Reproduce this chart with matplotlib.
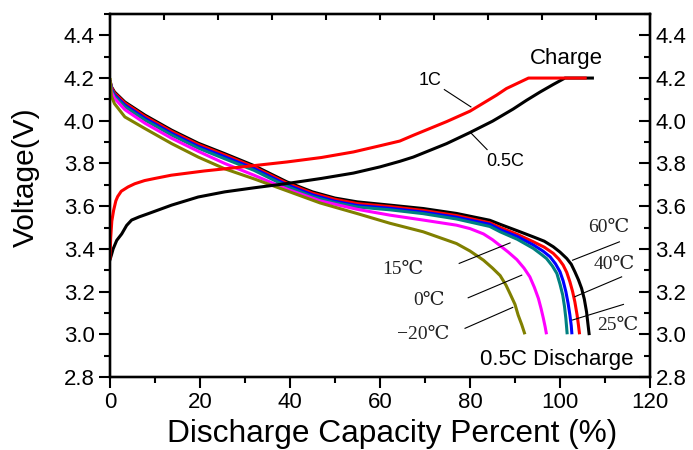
import matplotlib
matplotlib.use("Agg")
import matplotlib.pyplot as plt
import numpy as np

# ---------------- data ----------------
# discharge curves at 0.5C, various temperatures
d60_x = [0, 0.3, 1, 3.3, 7.8, 13.7, 19.6, 25.5, 32, 39.3, 45, 50, 55, 62.2, 69.6, 77, 84.4, 86.7, 90.5, 94.1, 96.5, 98.5,
         100, 101.5, 102.5, 103.3, 104.1, 104.8, 105.4, 105.9, 106.2, 106.5]
d60_v = [4.19, 4.16, 4.135, 4.088, 4.026, 3.956, 3.895, 3.846, 3.79, 3.714, 3.667, 3.638, 3.62, 3.605, 3.589, 3.566, 3.534,
         3.515, 3.485, 3.456, 3.436, 3.41, 3.385, 3.355, 3.328, 3.293, 3.255, 3.215, 3.165, 3.105, 3.05, 2.996]

d40_x = [0, 0.3, 1, 3.3, 7.8, 13.7, 19.6, 25.5, 32, 39.3, 45, 50, 55, 62.2, 69.6, 77, 84.4, 86.7, 90.5, 94.1, 96.5, 98.5,
         99.7, 100.7, 101.5, 102.2, 102.8, 103.3, 103.8, 104.1, 104.35]
d40_v = [4.19, 4.157, 4.13, 4.083, 4.02, 3.95, 3.889, 3.84, 3.784, 3.708, 3.661, 3.632, 3.612, 3.598, 3.58, 3.556, 3.522,
         3.500, 3.468, 3.433, 3.408, 3.379, 3.353, 3.324, 3.29, 3.246, 3.2, 3.152, 3.09, 3.043, 3.0]

d25_x = [0, 0.3, 1, 3.3, 7.8, 13.7, 19.6, 25.5, 32, 39.3, 45, 50, 55, 62.2, 69.6, 77, 84.4, 86.7, 90.5, 94.1, 96.2, 97.8,
         99.0, 100, 100.7, 101.3, 101.8, 102.2, 102.5, 102.65]
d25_v = [4.19, 4.15, 4.122, 4.074, 4.011, 3.941, 3.88, 3.831, 3.776, 3.70, 3.653, 3.623, 3.603, 3.59, 3.572, 3.548, 3.515,
         3.49, 3.458, 3.418, 3.39, 3.363, 3.33, 3.293, 3.25, 3.2, 3.145, 3.09, 3.04, 3.0]

d15_x = [0, 0.3, 1, 3.3, 7.8, 13.7, 19.6, 25.5, 32, 39.3, 45, 50, 55, 62.2, 69.6, 77, 84.4, 86.7, 90.5, 94.1, 95.8, 97,
         98.3, 99.3, 100, 100.6, 101.0, 101.3, 101.6]
d15_v = [4.19, 4.145, 4.115, 4.066, 4.003, 3.933, 3.872, 3.822, 3.768, 3.692, 3.645, 3.616, 3.596, 3.583, 3.565, 3.54, 3.505,
         3.48, 3.445, 3.402, 3.375, 3.355, 3.32, 3.285, 3.235, 3.184, 3.13, 3.075, 3.0]

d0_x = [0, 0.3, 1, 3.3, 7.8, 13.7, 19.6, 25.5, 32, 39.3, 46.7, 55, 62.2, 69.6, 77, 80, 83, 85, 86.7, 88.5, 90.4, 92, 93.3,
        94.3, 95.2, 95.8, 96.3, 96.7, 97.0]
d0_v = [4.19, 4.135, 4.105, 4.052, 3.988, 3.918, 3.857, 3.80, 3.745, 3.68, 3.625, 3.585, 3.558, 3.535, 3.511, 3.495, 3.47,
        3.443, 3.415, 3.385, 3.35, 3.31, 3.269, 3.22, 3.168, 3.12, 3.075, 3.035, 3.0]

dm20_x = [0, 0.3, 1, 3.3, 7.8, 13.7, 19.6, 25.5, 32, 39.3, 46.7, 55, 62.2, 69.6, 77, 80, 83, 85, 86.7, 88, 88.9, 90, 90.7,
          91.5, 92.2]
dm20_v = [4.20, 4.115, 4.08, 4.018, 3.963, 3.893, 3.83, 3.775, 3.728, 3.672, 3.615, 3.565, 3.52, 3.48, 3.425, 3.39, 3.347,
          3.31, 3.275, 3.23, 3.19, 3.14, 3.09, 3.045, 3.0]

# charge curves
c1_x = [0, 0.15, 0.4, 0.8, 1.3, 1.7, 2.5, 4, 5.5, 7.7, 10, 13.6, 21, 25.5, 32, 39.3, 47, 54.1, 60, 64.4, 67.4, 74.8, 80,
        85.9, 88.1, 93, 105.6]
c1_v = [3.357, 3.45, 3.53, 3.58, 3.625, 3.645, 3.67, 3.69, 3.705, 3.72, 3.73, 3.745, 3.765, 3.775, 3.79, 3.807, 3.828, 3.854,
        3.883, 3.905, 3.932, 3.996, 4.045, 4.12, 4.151, 4.20, 4.20]

c05_x = [0, 0.3, 0.7, 1.5, 2.6, 3.7, 4.8, 6.5, 8.5, 13.7, 19.6, 25.5, 32, 39.3, 47, 54.1, 60, 64.4, 67.4, 74.8, 80, 85,
         89.6, 92.5, 95.6, 98.5, 101.1, 107.2]
c05_v = [3.35, 3.37, 3.40, 3.44, 3.47, 3.51, 3.535, 3.55, 3.565, 3.605, 3.643, 3.667, 3.686, 3.706, 3.73, 3.755, 3.784, 3.81,
         3.83, 3.893, 3.945, 3.998, 4.055, 4.095, 4.135, 4.17, 4.20, 4.20]

discharge = [
    (d60_x, d60_v, "#000000"),
    (d40_x, d40_v, "#ff0000"),
    (d25_x, d25_v, "#0000ff"),
    (d15_x, d15_v, "#008080"),
    (d0_x, d0_v, "#ff00ff"),
    (dm20_x, dm20_v, "#808000"),
]

# annotation labels: (text, x, y) and leader lines ((x0, x1), (y0, y1))
charge_labels = [("1C", 71.2, 4.19), ("0.5C", 87.9, 3.81)]
charge_leaders = [((74.3, 80.2), (4.146, 4.065)), ((80.2, 83.8), (3.943, 3.865))]
temp_labels = [("60℃", 110.8, 3.498), ("40℃", 112.1, 3.329), ("25℃", 112.8, 3.039),
               ("15℃", 65.1, 3.303), ("0℃", 70.8, 3.156), ("−20℃", 69.6, 2.998)]
temp_leaders = [((102.8, 113.2), (3.347, 3.433)), ((103.3, 113.7), (3.176, 3.269)),
                ((102.8, 114.1), (3.067, 3.14)), ((77.6, 88.9), (3.332, 3.428)),
                ((79.6, 91.5), (3.171, 3.277)), ((78.9, 89.5), (3.028, 3.126))]

xticks = [0, 20, 40, 60, 80, 100, 120]
yticks = [2.8, 3.0, 3.2, 3.4, 3.6, 3.8, 4.0, 4.2, 4.4]

# ---------------- figure ----------------
plt.rcParams['font.family'] = ['Liberation Sans', 'DejaVu Sans']
fig = plt.figure(figsize=(6.93, 4.5), dpi=100)
ax = fig.add_axes([110 / 693, 1 - 377 / 450, 540 / 693, 363 / 450])

lw = 2.2
for x, v, c in discharge:
    ax.plot(x, v, color=c, lw=lw, solid_joinstyle='round', solid_capstyle='butt', zorder=3)
ax.plot(c05_x, c05_v, color="#000000", lw=lw, solid_joinstyle='round', zorder=4)
ax.plot(c1_x, c1_v, color="#ff0000", lw=lw, solid_joinstyle='round', zorder=5)

for (xs, ys) in charge_leaders + temp_leaders:
    ax.plot(xs, ys, color="black", lw=0.8, zorder=6)
for t, x, y in charge_labels:
    ax.text(x, y, t, fontsize=13, ha='center', va='center')
ax.text(101.5, 4.292, "Charge", fontsize=16, ha='center', va='center')
ax.text(99.2, 2.884, "0.5C Discharge", fontsize=16, ha='center', va='center')
for t, x, y in temp_labels:
    ax.text(x, y, t, fontsize=14, ha='center', va='center',
            family=['Liberation Serif', 'DejaVu Serif', 'Noto Sans CJK SC'], color='#222222')

ax.set_xlim(0, 120)
ax.set_ylim(2.8, 4.5)
ax.set_xticks(xticks)
ax.set_xticks(np.arange(0, 121, 10), minor=True)
ax.set_yticks(yticks)
ax.set_yticks(np.arange(2.8, 4.51, 0.1), minor=True)
ax.set_yticklabels([f"{t:.1f}" for t in yticks])
ax.tick_params(axis='both', which='major', direction='out', length=8, width=1.5, labelsize=16, pad=3)
ax.tick_params(axis='both', which='minor', direction='out', length=4.5, width=1.5)
ax.tick_params(top=False, right=False)
for s in ax.spines.values():
    s.set_linewidth(1.6)

# right axis (ticks inward, labels)
axr = ax.twinx()
axr.set_ylim(2.8, 4.5)
axr.set_yticks(yticks)
axr.set_yticks(np.arange(2.8, 4.51, 0.1), minor=True)
axr.set_yticklabels([f"{t:.1f}" for t in yticks])
axr.tick_params(axis='y', which='major', direction='in', length=8, width=1.5, labelsize=16, pad=4)
axr.tick_params(axis='y', which='minor', direction='in', length=4.5, width=1.5)

# top axis (ticks inward, no labels)
axt = ax.twiny()
axt.set_xlim(0, 120)
axt.set_xticks(np.arange(0, 121, 12))
axt.tick_params(axis='x', which='major', direction='in', length=4.5, width=1.5, labeltop=False)
for a in (axr, axt):
    for s in a.spines.values():
        s.set_linewidth(1.6)

ax.set_xlabel("Discharge Capacity Percent (%)", fontsize=22.8)
ax.xaxis.set_label_coords(0.522, -0.115)
ax.set_ylabel("Voltage(V)", fontsize=21.5)
ax.yaxis.set_label_coords(-0.13, 0.55)

fig.savefig("out.png", dpi=100)
